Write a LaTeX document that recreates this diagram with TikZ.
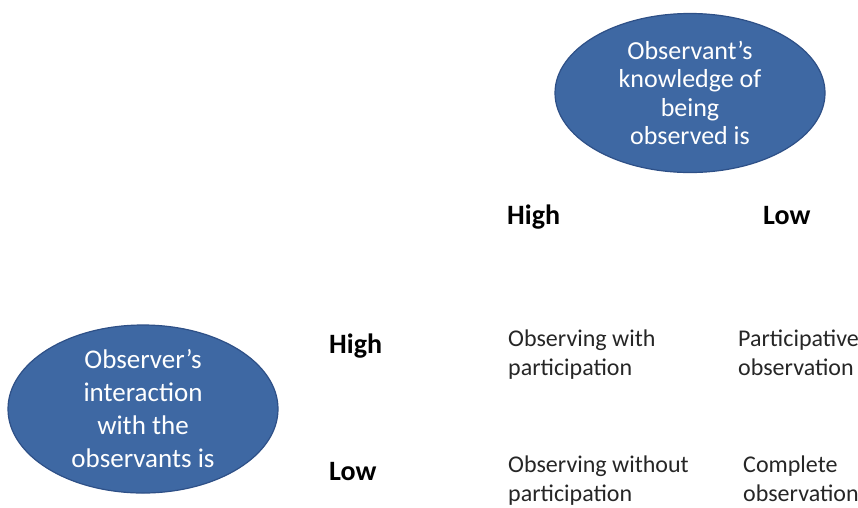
\documentclass[tikz,border=0pt]{standalone}
\usepackage{fontspec}
\setmainfont{Carlito}
\usetikzlibrary{shapes.geometric}
\definecolor{ovalblue}{RGB}{62,104,163}
\definecolor{ovalline}{RGB}{46,80,135}

\begin{document}
\begin{tikzpicture}[x=1pt,y=-1pt,
	oval/.style={ellipse,draw=ovalline,line width=1.2pt,fill=ovalblue,text=white,align=center,inner sep=0pt,minimum width=270pt},
	level/.style={anchor=base west,inner sep=0pt,font=\fontsize{28}{34}\selectfont\bfseries},
	cell/.style={anchor=north west,inner sep=0pt,align=left,text=black!85,font=\fontsize{24}{29}\selectfont}]
	\useasboundingbox (0,0) rectangle (858,507);
	% the two ovals
	\node (knowledge)[oval,minimum height=159pt,font=\fontsize{26}{28.5}\selectfont] at (690,93){
		Observant’s\\
		knowledge of\\
		being\\
		observed is
	};
	\node (interaction)[oval,minimum height=168pt,font=\fontsize{27}{33}\selectfont] at (143,409){
		Observer’s\\
		interaction\\
		with the\\
		observants is
	};
	% levels
	\node (colhigh)[level] at (507,224){High};
	\node (collow)[level] at (763,224){Low};
	\node (rowhigh)[level] at (329,353){High};
	\node (rowlow)[level] at (329,480){Low};
	% cells
	\node (withpart)[cell] at (508,330){Observing with\\participation};
	\node (partobs)[cell] at (738,330){Participative\\observation};
	\node (withoutpart)[cell] at (508,456){Observing without\\participation};
	\node (complobs)[cell] at (743,456){Complete\\observation};
\end{tikzpicture}
\end{document}
